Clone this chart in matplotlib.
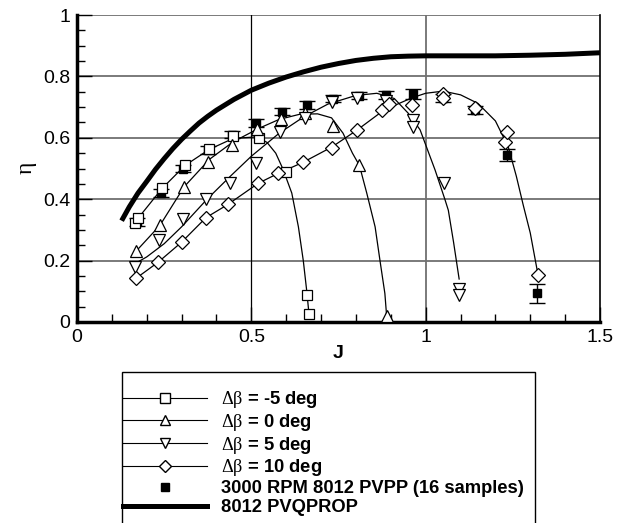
import matplotlib
matplotlib.use('Agg')
import matplotlib.pyplot as plt
from matplotlib.lines import Line2D
from matplotlib.patches import Rectangle

plt.rcParams['font.family'] = ['Liberation Sans', 'DejaVu Sans']
plt.rcParams['mathtext.fontset'] = 'custom'
plt.rcParams['mathtext.rm'] = 'Liberation Serif'
plt.rcParams['mathtext.it'] = 'Liberation Serif:italic'

# 数据
# -5 deg
J_m5 = [0.166, 0.175, 0.244, 0.31, 0.379, 0.448, 0.522, 0.60, 0.66, 0.665]
eta_m5 = [0.324, 0.34, 0.438, 0.51, 0.562, 0.605, 0.598, 0.49, 0.088, 0.026]
Jc_m5 = [0.166, 0.244, 0.31, 0.379, 0.448, 0.515, 0.545, 0.57, 0.59, 0.616, 0.635, 0.649, 0.659, 0.665]
etac_m5 = [0.325, 0.435, 0.51, 0.562, 0.598, 0.603, 0.585, 0.55, 0.50, 0.42, 0.31, 0.20, 0.10, 0.03]

# 0 deg
J_0 = [0.169, 0.238, 0.307, 0.376, 0.444, 0.515, 0.585, 0.655, 0.734, 0.81, 0.888]
eta_0 = [0.23, 0.315, 0.44, 0.52, 0.576, 0.63, 0.66, 0.68, 0.639, 0.51, 0.02]
Jc_0 = [0.169, 0.238, 0.307, 0.38, 0.448, 0.52, 0.58, 0.64, 0.69, 0.73, 0.763, 0.79, 0.81,
        0.831, 0.855, 0.869, 0.883, 0.888]
etac_0 = [0.23, 0.315, 0.44, 0.53, 0.587, 0.63, 0.66, 0.677, 0.678, 0.665, 0.615, 0.55, 0.51,
          0.42, 0.31, 0.20, 0.093, 0.02]

# 5 deg
J_5 = [0.166, 0.236, 0.303, 0.37, 0.439, 0.513, 0.582, 0.654, 0.731, 0.803, 0.886, 0.964, 0.964,
       1.052, 1.096, 1.096]
eta_5 = [0.18, 0.266, 0.335, 0.40, 0.452, 0.517, 0.62, 0.664, 0.717, 0.73, 0.72, 0.658, 0.636,
         0.452, 0.109, 0.087]
Jc_5 = [0.166, 0.2, 0.25, 0.30, 0.373, 0.44, 0.50, 0.58, 0.65, 0.72, 0.80, 0.86, 0.91, 0.95,
        0.984, 1.027, 1.055, 1.065, 1.08, 1.096]
etac_5 = [0.19, 0.212, 0.255, 0.31, 0.40, 0.475, 0.54, 0.615, 0.668, 0.71, 0.738, 0.745, 0.728,
          0.68, 0.626, 0.495, 0.40, 0.364, 0.26, 0.14]

# 10 deg
J_10 = [0.169, 0.233, 0.30, 0.37, 0.433, 0.52, 0.577, 0.648, 0.731, 0.803, 0.875, 0.895, 0.961,
        1.05, 1.05, 1.141, 1.227, 1.233, 1.322]
eta_10 = [0.142, 0.195, 0.26, 0.34, 0.383, 0.452, 0.484, 0.52, 0.566, 0.625, 0.69, 0.71, 0.707,
          0.743, 0.73, 0.697, 0.586, 0.62, 0.152]
Jc_10 = [0.169, 0.233, 0.30, 0.37, 0.433, 0.52, 0.577, 0.648, 0.731, 0.803, 0.88, 0.96, 1.0,
         1.05, 1.1, 1.15, 1.2, 1.237, 1.26, 1.28, 1.30, 1.322]
etac_10 = [0.142, 0.195, 0.26, 0.34, 0.383, 0.452, 0.484, 0.52, 0.57, 0.625, 0.69, 0.73, 0.745,
           0.752, 0.74, 0.712, 0.655, 0.57, 0.475, 0.38, 0.29, 0.155]

# 实验 3000 RPM
J_exp = [0.171, 0.24, 0.305, 0.376, 0.445, 0.513, 0.587, 0.659, 0.734, 0.81, 0.886, 0.964,
         1.05, 1.141, 1.233, 1.319]
eta_exp = [0.326, 0.42, 0.50, 0.56, 0.61, 0.648, 0.685, 0.707, 0.727, 0.737, 0.74, 0.743,
           0.73, 0.691, 0.544, 0.093]
err_exp = [0.012, 0.012, 0.012, 0.012, 0.012, 0.012, 0.012, 0.012, 0.012, 0.012, 0.012, 0.015,
           0.012, 0.012, 0.018, 0.032]

# PVQPROP
J_pvq = [0.128, 0.15, 0.175, 0.2, 0.225, 0.25, 0.275, 0.3, 0.325, 0.35, 0.375, 0.4, 0.45, 0.5,
         0.55, 0.6, 0.65, 0.7, 0.75, 0.8, 0.85, 0.9, 0.95, 1.0, 1.1, 1.2, 1.3, 1.4, 1.5]
eta_pvq = [0.33, 0.375, 0.42, 0.458, 0.497, 0.532, 0.565, 0.595, 0.622, 0.648, 0.67, 0.69, 0.725,
           0.755, 0.778, 0.798, 0.815, 0.83, 0.842, 0.852, 0.859, 0.864, 0.866, 0.867, 0.867,
           0.867, 0.869, 0.872, 0.877]

labels = [r'$\mathrm{\Delta\beta}$ = -5 deg', r'$\mathrm{\Delta\beta}$ = 0 deg',
          r'$\mathrm{\Delta\beta}$ = 5 deg', r'$\mathrm{\Delta\beta}$ = 10 deg',
          '3000 RPM 8012 PVPP (16 samples)', '8012 PVQPROP']

fig = plt.figure(figsize=(6.27, 5.23), dpi=100)
ax = fig.add_axes([77 / 627, 1 - 322 / 523, 523 / 627, 307 / 523])

# 网格
for y in [0.2, 0.4, 0.6, 0.8, 1.0]:
    ax.axhline(y, color='#707070', lw=1.3, zorder=1)
ax.axvline(0.5, color='black', lw=0.9, zorder=1)
ax.axvline(1.0, color='#707070', lw=1.3, zorder=1)

lw_c = 0.9
ax.plot(J_pvq, eta_pvq, 'k-', lw=3.6, zorder=2, solid_capstyle='butt', solid_joinstyle='round')
ax.plot(Jc_m5, etac_m5, 'k-', lw=lw_c, zorder=3)
ax.plot(Jc_0, etac_0, 'k-', lw=lw_c, zorder=3)
ax.plot(Jc_5, etac_5, 'k-', lw=lw_c, zorder=3)
ax.plot(Jc_10, etac_10, 'k-', lw=lw_c, zorder=3)

ax.errorbar(J_exp, eta_exp, yerr=err_exp, fmt='s', color='black', ms=5.5, capsize=6,
            elinewidth=1.0, capthick=1.0, zorder=4)
ax.plot(J_m5, eta_m5, 's', ms=7, mfc='white', mec='black', mew=0.9, zorder=5)
ax.plot(J_0, eta_0, '^', ms=8.5, mfc='white', mec='black', mew=0.9, zorder=5)
ax.plot(J_5, eta_5, 'v', ms=8.5, mfc='white', mec='black', mew=0.9, zorder=5)
ax.plot(J_10, eta_10, 'D', ms=7, mfc='white', mec='black', mew=0.9, zorder=5)

ax.set_xlim(0, 1.5)
ax.set_ylim(0, 1)
ax.set_xticks([0, 0.5, 1, 1.5])
ax.set_xticklabels(['0', '0.5', '1', '1.5'])
ax.set_yticks([0, 0.2, 0.4, 0.6, 0.8, 1])
ax.set_yticklabels(['0', '0.2', '0.4', '0.6', '0.8', '1'])
ax.set_xticks([0.1, 0.2, 0.3, 0.4, 0.6, 0.7, 0.8, 0.9, 1.1, 1.2, 1.3, 1.4], minor=True)
ax.set_yticks([i * 0.05 for i in range(21) if i % 4 != 0], minor=True)
ax.tick_params(which='both', direction='in', top=False, right=False, labelsize=14, width=1.0)
ax.tick_params(which='major', length=11, pad=5)
ax.tick_params(which='minor', length=6)

ax.spines['left'].set_linewidth(2.5)
ax.spines['bottom'].set_linewidth(2.5)
ax.spines['top'].set_visible(False)
ax.spines['right'].set_linewidth(1.2)

ax.set_xlabel('J', fontsize=14, fontweight='bold', labelpad=-1)
ax.set_ylabel(r'$\mathrm{\eta}$', fontsize=17, labelpad=3)

# 图例
handles = [
    Line2D([], [], color='black', lw=0.8, marker='s', ms=6.5, mfc='white', mec='black'),
    Line2D([], [], color='black', lw=0.8, marker='^', ms=7.5, mfc='white', mec='black'),
    Line2D([], [], color='black', lw=0.8, marker='v', ms=7.5, mfc='white', mec='black'),
    Line2D([], [], color='black', lw=0.8, marker='D', ms=6.5, mfc='white', mec='black'),
    Line2D([], [], ls='none', marker='s', ms=5.5, color='black'),
    Line2D([], [], color='black', lw=3.6),
]
fig.patches.append(Rectangle((122 / 627, -0.05), 413 / 627, 0.05 + 1 - 372 / 523,
                             transform=fig.transFigure, fill=False, ec='black', lw=1.0))
leg = fig.legend(handles, labels, loc='upper left', bbox_to_anchor=(123 / 627, 1 - 389 / 523),
                 frameon=False, borderpad=0, borderaxespad=0, handlelength=4.6,
                 handletextpad=0.75, labelspacing=0.1,
                 prop={'family': 'Liberation Sans', 'weight': 'bold', 'size': 13.2})

fig.savefig('out.png', dpi=100)
